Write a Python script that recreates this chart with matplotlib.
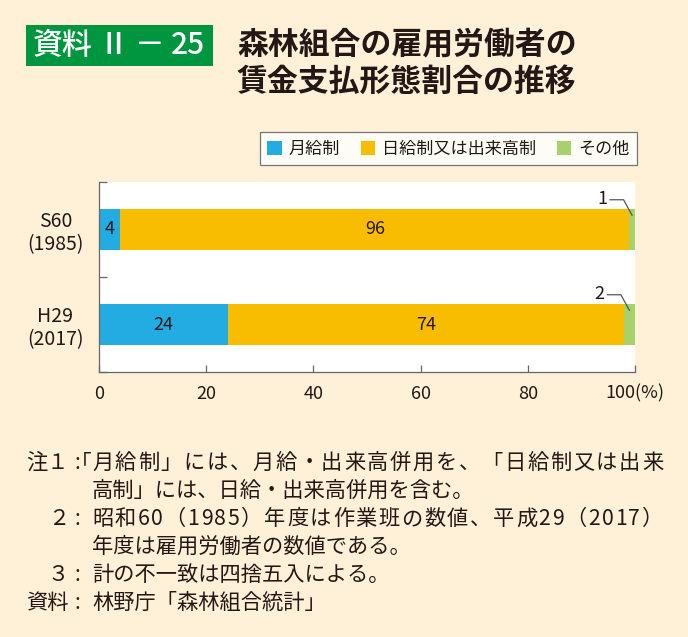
import matplotlib
matplotlib.use("Agg")
import matplotlib.pyplot as plt
from matplotlib.patches import Patch, Rectangle
from matplotlib.lines import Line2D
from matplotlib.transforms import ScaledTranslation
from matplotlib.font_manager import FontProperties

plt.rcParams['font.family'] = ['Noto Sans CJK JP', 'DejaVu Sans']

# ---- data ----
categories = ['S60\n(1985)', 'H29\n(2017)']
series_names = ['月給制', '日給制又は出来高制', 'その他']
monthly = [4.0, 24.1]
daily = [94.9, 73.8]
other = [1.1, 2.1]
monthly_lbl = ['4', '24']
daily_lbl = ['96', '74']
other_lbl = ['1', '2']
xticks = [0, 20, 40, 60, 80, 100]
xtick_labels = ['0', '20', '40', '60', '80', '100(%)']

title_tag = ['資料', 'Ⅱ', '－', '25']
title_lines = ['森林組合の雇用労働者の', '賃金支払形態割合の推移']

BG = '#FEF1D8'
C_BLUE = '#23ACE2'
C_ORANGE = '#F8BD00'
C_GREEN = '#A6D16B'
C_TAG = '#00963F'
TXT = '#231815'
AX = '#666666'

W, H = 688, 637
fig = plt.figure(figsize=(W / 100, H / 100), dpi=100, facecolor=BG)
renderer = fig.canvas.get_renderer()

def fx(px):
    return px / W

def fy(py):
    return 1 - py / H

def justified(tokens, x0, x1, y, prop, color):
    widths = [renderer.get_text_width_height_descent(t, prop, ismath=False)[0]
              for t in tokens]
    gap = (x1 - x0 - sum(widths)) / (len(tokens) - 1)
    x = x0
    for t, w in zip(tokens, widths):
        fig.text(fx(x), fy(y), t, fontproperties=prop, color=color,
                 ha='left', va='center', zorder=3)
        x += w + gap

# ---- title ----
fig.patches.append(Rectangle((fx(26), fy(66)), fx(213) - fx(26), fy(25) - fy(66),
                             transform=fig.transFigure, facecolor=C_TAG,
                             edgecolor='none', zorder=1))
tag_prop = FontProperties(family=['Noto Sans CJK JP', 'DejaVu Sans'], size=21.5,
                          weight='medium')
justified(title_tag, 33, 205, 45.5, tag_prop, 'white')
title_prop = FontProperties(family=['Noto Sans CJK JP', 'DejaVu Sans'], size=22.2,
                            weight='bold')
fig.text(fx(237), fy(44), title_lines[0], fontproperties=title_prop, color=TXT,
         ha='left', va='center')
fig.text(fx(237), fy(82), title_lines[1], fontproperties=title_prop, color=TXT,
         ha='left', va='center')

# ---- axes ----
ax = fig.add_axes([fx(99), fy(372), fx(635) - fx(99), fy(182) - fy(372)])
ax.set_facecolor('white')
ypos = [1.5, 0.5]
bh = 0.44
left2 = [m + d for m, d in zip(monthly, daily)]
ax.barh(ypos, monthly, height=bh, color=C_BLUE, label=series_names[0])
ax.barh(ypos, daily, left=monthly, height=bh, color=C_ORANGE, label=series_names[1])
ax.barh(ypos, other, left=left2, height=bh, color=C_GREEN, label=series_names[2])

for i, y in enumerate(ypos):
    ax.text(monthly[i] / 2, y, monthly_lbl[i], ha='center', va='center',
            fontsize=13, color=TXT)
    ax.text(monthly[i] + daily[i] / 2, y, daily_lbl[i], ha='center', va='center',
            fontsize=13, color=TXT)
    xg = left2[i] + other[i] / 2
    tr = fig.dpi_scale_trans + ScaledTranslation(xg, y + 0.15, ax.transData)
    ax.add_line(Line2D([0, -0.085, -0.22], [0, 0.155, 0.155], transform=tr,
                       color='#555555', lw=0.9, clip_on=False))
    ax.text(-0.30, 0.16, other_lbl[i], transform=tr, ha='center', va='center',
            fontsize=13, color=TXT)

ax.set_xlim(0, 100)
ax.set_ylim(0, 2)
ax.set_xticks(xticks)
ax.set_xticklabels(xtick_labels, fontsize=13, color=TXT)
ax.tick_params(axis='x', direction='in', length=5, width=0.9, color=AX, pad=9)
ax.set_yticks(ypos)
ax.set_yticklabels(categories, fontsize=14, color=TXT, linespacing=1.15)
for lbl in ax.get_yticklabels():
    lbl.set_horizontalalignment('center')
    lbl.set_multialignment('center')
ax.tick_params(axis='y', which='major', length=0, pad=31.5)
ax.set_yticks([0, 1, 2], minor=True)
ax.tick_params(axis='y', which='minor', direction='in', length=6, width=0.9, color=AX)
for s in ['top', 'right']:
    ax.spines[s].set_visible(False)
for s in ['left', 'bottom']:
    ax.spines[s].set_color(AX)
    ax.spines[s].set_linewidth(0.9)

# ---- legend ----
handles = [Patch(facecolor=c, edgecolor='none') for c in (C_BLUE, C_ORANGE, C_GREEN)]
leg = fig.legend(handles, series_names, loc='upper right',
                 bbox_to_anchor=(fx(637), fy(132)), ncol=3, fontsize=12.3,
                 frameon=True, fancybox=False, borderaxespad=0,
                 handlelength=0.85, handleheight=0.85, handletextpad=0.4,
                 columnspacing=1.2, borderpad=0.45)
leg.get_frame().set_edgecolor('#555555')
leg.get_frame().set_linewidth(0.9)
leg.get_frame().set_facecolor('white')
for t in leg.get_texts():
    t.set_color(TXT)

# ---- notes ----
NFS = 15.3
prop = FontProperties(family=['Noto Sans CJK JP', 'DejaVu Sans'], size=NFS)

notes = [
    ('注１', '｢', '月給制」には、月給・出来高併用を、「日給制又は出来', True),
    ('', '', '高制」には、日給・出来高併用を含む。', False),
    ('２', '', '昭和60（1985）年度は作業班の数値、平成29（2017）', True),
    ('', '', '年度は雇用労働者の数値である。', False),
    ('３', '', '計の不一致は四捨五入による。', False),
    ('資料', '', '林野庁「森林組合統計」', False),
]
ys = [463, 491, 519, 547, 575, 603]
for (lab, pre, body, just), y in zip(notes, ys):
    if lab:
        fig.text(fx(69), fy(y), lab, fontproperties=prop, color=TXT,
                 ha='right', va='center')
        fig.text(fx(77.5), fy(y), ':', fontproperties=prop, color=TXT,
                 ha='center', va='center')
    if pre:
        fig.text(fx(91.5), fy(y), pre, fontproperties=prop, color=TXT,
                 ha='right', va='center')
    if just:
        justified(list(body), 92, 663, y, prop, TXT)
    else:
        fig.text(fx(92), fy(y), body, fontproperties=prop, color=TXT,
                 ha='left', va='center')

fig.savefig('out.png', dpi=100, facecolor=BG)
